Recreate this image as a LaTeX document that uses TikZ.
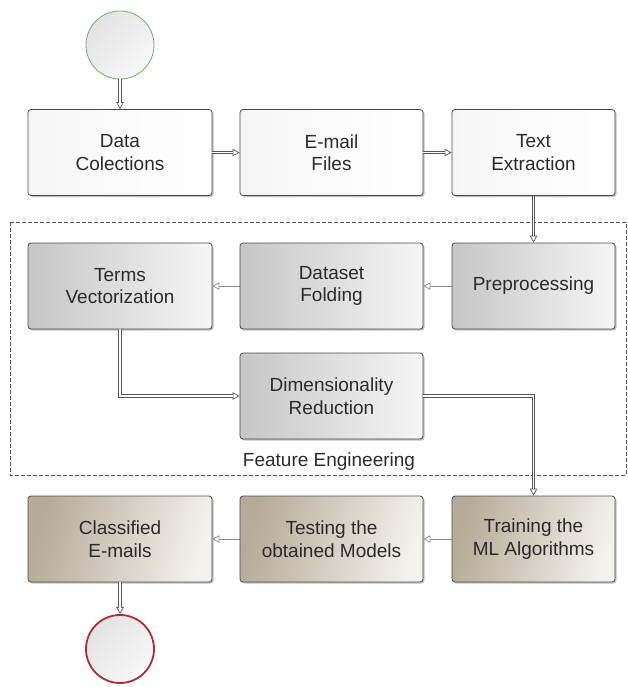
\documentclass[tikz,border=0pt]{standalone}
\usepackage{fontspec}
\setmainfont{Liberation Sans}
\usetikzlibrary{arrows.meta,shadows}

\definecolor{edge}{HTML}{4A4A4A}
\definecolor{txt}{HTML}{2B2B2B}
\definecolor{wire}{HTML}{555555}
\definecolor{thinwire}{HTML}{8A8A8A}
\definecolor{greyL}{HTML}{C6C6C6}
\definecolor{greyR}{HTML}{F6F6F6}
\definecolor{taupeL}{HTML}{B5AB98}
\definecolor{taupeR}{HTML}{F4F2EE}
\definecolor{startring}{HTML}{6FAE6F}
\definecolor{endring}{HTML}{B02A37}

\tikzset{
  box/.style={rectangle, rounded corners=3pt, draw=edge, line width=0.8pt,
    minimum height=86pt, align=center, inner sep=2pt,
    font=\fontsize{19}{22.5}\selectfont, text=txt,
    drop shadow={shadow xshift=1.5pt, shadow yshift=-1.5pt, opacity=0.25, fill=black}},
  plainbox/.style={box, left color=gray!7, right color=white},
  greybox/.style={box, left color=greyL, right color=greyR},
  taupebox/.style={box, left color=taupeL, right color=taupeR, shading angle=75},
  col1/.style={minimum width=184pt},
  col2/.style={minimum width=183pt},
  col3/.style={minimum width=163pt},
  terminal/.style={circle, minimum size=68pt, inner sep=0pt,
    left color=gray!22, right color=gray!5, shading angle=45},
  % connector drawn in two passes: the tip with a single line, then the doubled shaft
  tipline/.style={draw=wire, line width=0.7pt,
    -{Triangle[length=7pt, width=7.5pt, fill=white, line width=0.7pt]}},
  dblline/.style={draw=wire, line width=0.7pt, double=white, double distance=1.8pt,
    shorten >=6.5pt},
  thinarrow/.style={draw=thinwire, line width=0.7pt,
    -{Triangle[length=7pt, width=7.5pt, fill=white, line width=0.7pt]}},
  frame/.style={draw=wire, line width=0.7pt, dash pattern=on 4pt off 2pt},
}

\begin{document}
\begin{tikzpicture}[x=1pt, y=-1pt]
\useasboundingbox (0,0) rectangle (628,687);

% feature engineering frame
\draw[frame] (10,222) rectangle (626,475);
\node[font=\fontsize{19}{22.5}\selectfont, text=txt] (fe) at (329,462) {Feature Engineering};

% terminals
\node[terminal, draw=startring, line width=0.8pt] (start) at (120,45) {};
\node[terminal, draw=endring, line width=1.8pt] (stop) at (120,649) {};

% row 1
\node[plainbox, col1] (data) at (120,152.5) {Data\\Colections};
\node[plainbox, col2] (email) at (331.5,152.5) {E-mail\\Files};
\node[plainbox, col3] (text) at (533.5,152.5) {Text\\Extraction};

% row 2
\node[greybox, col1] (terms) at (120,286) {Terms\\Vectorization};
\node[greybox, col2] (fold) at (331.5,286) {Dataset\\Folding};
\node[greybox, col3] (prep) at (533.5,286) {Preprocessing};
\node[greybox, col2] (dim) at (331.5,396) {Dimensionality\\Reduction};

% row 3
\node[taupebox, col1] (cls) at (120,539) {Classified\\E-mails};
\node[taupebox, col2] (test) at (331.5,539) {Testing the\\obtained Models};
\node[taupebox, col3] (train) at (533.5,539) {Training the\\ML Algorithms};

% doubled connectors
\foreach \a/\b in {start/data, data/email, email/text, text/prep, cls/stop}{
  \draw[tipline] (\a) -- (\b);
  \draw[dblline] (\a) -- (\b);
}
\draw[tipline] (terms.south) |- (dim.west);
\draw[dblline] (terms.south) |- (dim.west);
\draw[tipline] (dim.east) -| (train.north);
\draw[dblline] (dim.east) -| (train.north);

% single connectors
\draw[thinarrow] (prep) -- (fold);
\draw[thinarrow] (fold) -- (terms);
\draw[thinarrow] (train) -- (test);
\draw[thinarrow] (test) -- (cls);
\end{tikzpicture}
\end{document}
